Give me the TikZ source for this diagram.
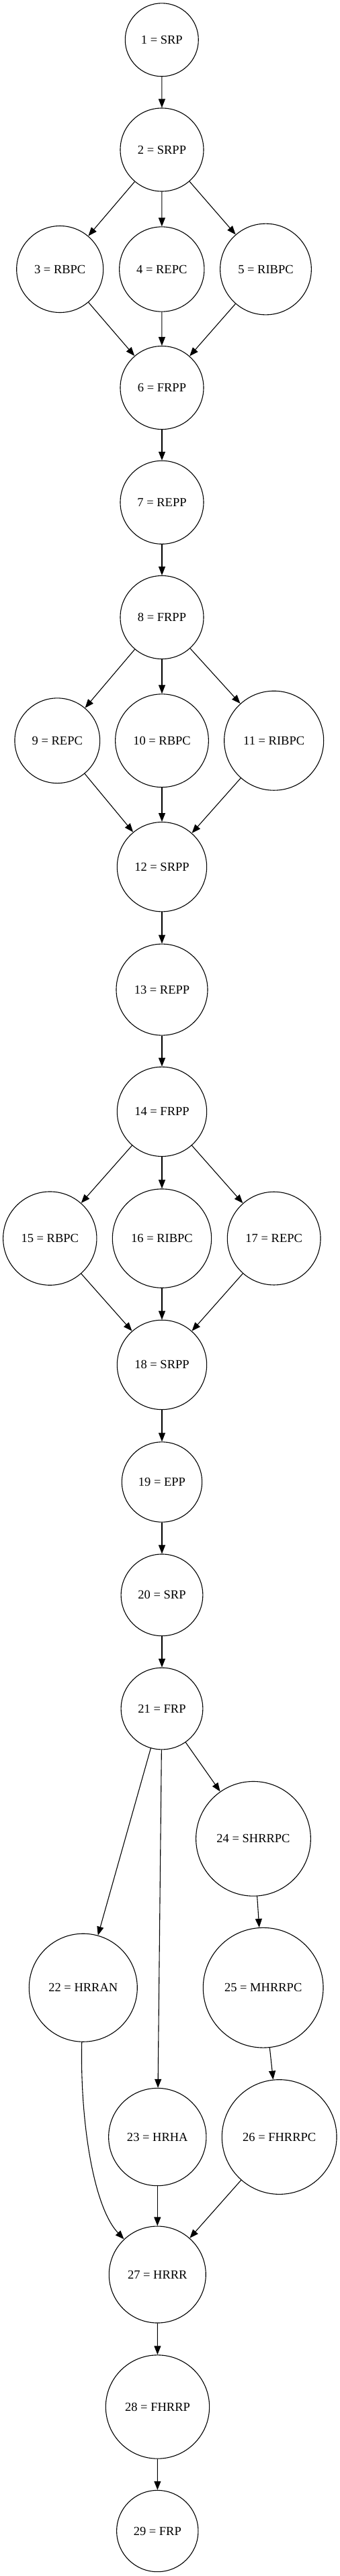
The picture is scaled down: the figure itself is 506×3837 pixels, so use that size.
\documentclass[tikz,border=0pt]{standalone}
\usepackage{fontspec}
\setmainfont{Liberation Serif}
\usetikzlibrary{arrows.meta}
\begin{document}
\begin{tikzpicture}[x=1bp,y=-1bp,
  st/.style={circle,draw,line width=1.1bp,inner sep=0pt,font=\fontsize{18.5bp}{22bp}\selectfont},
  arr/.style={line width=1.1bp,-{Triangle[length=13bp,width=10bp]}}]
\useasboundingbox[fill=white] (0,0) rectangle (506,3837);
\node[st,minimum size=109bp]   (n1)  at (240.8,59.3)  {1 = SRP};
\node[st,minimum size=124bp]   (n2)  at (241,223)     {2 = SRPP};
\node[st,minimum size=129bp]   (n3)  at (89.2,401)    {3 = RBPC};
\node[st,minimum size=126.3bp] (n4)  at (240.8,401)   {4 = REPC};
\node[st,minimum size=135.7bp] (n5)  at (395.5,401)   {5 = RIBPC};
\node[st,minimum size=124bp]   (n6)  at (241,577.5)   {6 = FRPP};
\node[st,minimum size=124bp]   (n7)  at (241,748.3)   {7 = REPP};
\node[st,minimum size=124bp]   (n8)  at (241,919.5)   {8 = FRPP};
\node[st,minimum size=126.7bp] (n9)  at (85.3,1103.2) {9 = REPC};
\node[st,minimum size=138.7bp] (n10) at (241,1103.2)  {10 = RBPC};
\node[st,minimum size=148bp]   (n11) at (407.7,1103.2){11 = RIBPC};
\node[st,minimum size=133.3bp] (n12) at (241,1291.2)  {12 = SRPP};
\node[st,minimum size=136bp]   (n13) at (241,1474.1)  {13 = REPP};
\node[st,minimum size=133.3bp] (n14) at (241,1655.8)  {14 = FRPP};
\node[st,minimum size=139.3bp] (n15) at (74.3,1844.6) {15 = RBPC};
\node[st,minimum size=147.3bp] (n16) at (241,1844.6)  {16 = RIBPC};
\node[st,minimum size=138.7bp] (n17) at (407.7,1844.6){17 = REPC};
\node[st,minimum size=133.3bp] (n18) at (241,2032.9)  {18 = SRPP};
\node[st,minimum size=119.3bp] (n19) at (241,2207.5)  {19 = EPP};
\node[st,minimum size=121.7bp] (n20) at (241,2375.8)  {20 = SRP};
\node[st,minimum size=121.7bp] (n21) at (241,2545)    {21 = FRP};
\node[st,minimum size=161bp]   (n22) at (123.8,2960.7){22 = HRRAN};
\node[st,minimum size=145.3bp] (n23) at (234.3,3183)  {23 = HRHA};
\node[st,minimum size=170.7bp] (n24) at (377,2738.8)  {24 = SHRRPC};
\node[st,minimum size=178.7bp] (n25) at (391.7,2960.7){25 = MHRRPC};
\node[st,minimum size=170.7bp] (n26) at (415.7,3183)  {26 = FHRRPC};
\node[st,minimum size=144bp]   (n27) at (234.3,3388)  {27 = HRRR};
\node[st,minimum size=154.3bp] (n28) at (234.5,3585)  {28 = FHRRP};
\node[st,minimum size=121.3bp] (n29) at (234.3,3770)  {29 = FRP};
\draw[arr] (n1) -- (n2);
\draw[arr] (n2) -- (n3);
\draw[arr] (n2) -- (n4);
\draw[arr] (n2) -- (n5);
\draw[arr] (n3) -- (n6);
\draw[arr] (n4) -- (n6);
\draw[arr] (n5) -- (n6);
\draw[arr] (n6) -- (n7);
\draw[arr] (n7) -- (n8);
\draw[arr] (n8) -- (n9);
\draw[arr] (n8) -- (n10);
\draw[arr] (n8) -- (n11);
\draw[arr] (n9) -- (n12);
\draw[arr] (n10) -- (n12);
\draw[arr] (n11) -- (n12);
\draw[arr] (n12) -- (n13);
\draw[arr] (n13) -- (n14);
\draw[arr] (n14) -- (n15);
\draw[arr] (n14) -- (n16);
\draw[arr] (n14) -- (n17);
\draw[arr] (n15) -- (n18);
\draw[arr] (n16) -- (n18);
\draw[arr] (n17) -- (n18);
\draw[arr] (n18) -- (n19);
\draw[arr] (n19) -- (n20);
\draw[arr] (n20) -- (n21);
\draw[arr] (n21) -- (n22);
\draw[arr] (n21) -- (n23);
\draw[arr] (n21) -- (n24);
\draw[arr] (n24) -- (n25);
\draw[arr] (n25) -- (n26);
\draw[arr] (n22) .. controls (119,3150) and (137,3285) .. (n27);
\draw[arr] (n23) -- (n27);
\draw[arr] (n26) -- (n27);
\draw[arr] (n27) -- (n28);
\draw[arr] (n28) -- (n29);
\end{tikzpicture}
\end{document}
